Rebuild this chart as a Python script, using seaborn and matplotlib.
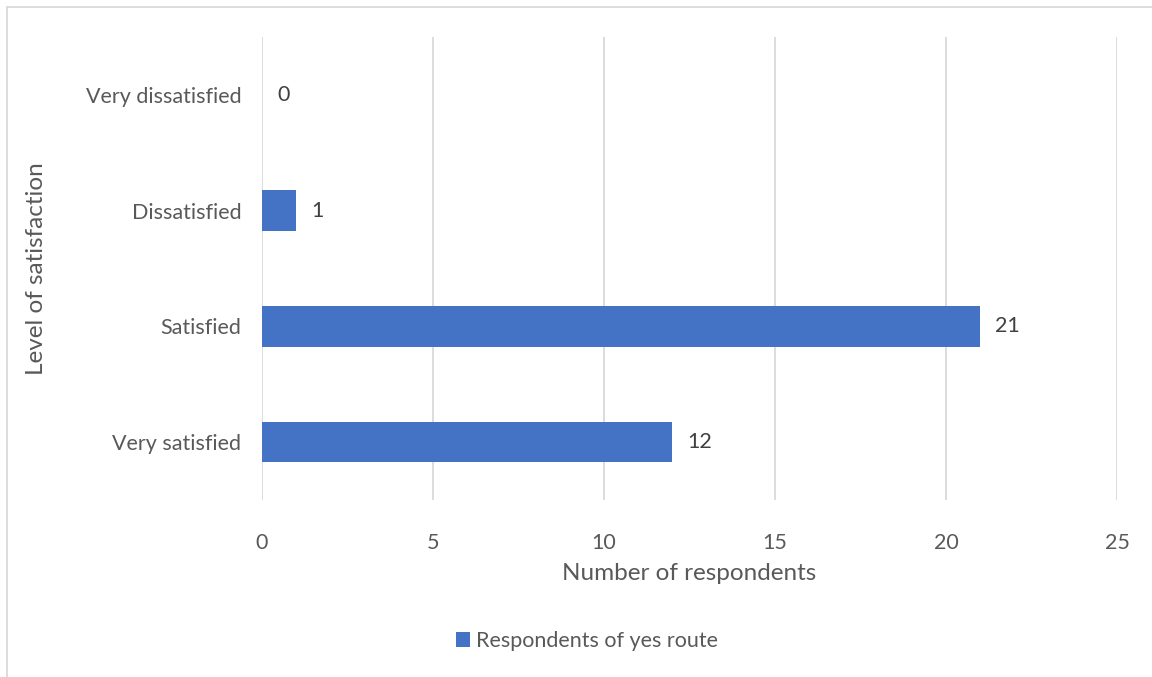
import matplotlib
matplotlib.use("Agg")
import matplotlib.pyplot as plt
import seaborn as sns
import pandas as pd
from matplotlib.patches import Rectangle, Patch

categories = ["Very dissatisfied", "Dissatisfied", "Satisfied", "Very satisfied"]
values = [0, 1, 21, 12]
series_name = "Respondents of yes route"
xticks = [0, 5, 10, 15, 20, 25]

sns.set_theme(style="white")
plt.rcParams['font.family'] = ['Lato', 'DejaVu Sans']
text_color = "#595959"
bar_color = "#4472C4"

df = pd.DataFrame({"category": categories, "value": values})

fig = plt.figure(figsize=(11.52, 6.77), dpi=100)
ax = fig.add_axes([262/1152, 1 - 500/677, (1117 - 262)/1152, (500 - 37)/677])

sns.barplot(data=df, x="value", y="category", order=categories, color=bar_color,
            width=0.35, ax=ax, saturation=1, edgecolor="none")

ax.set_xlim(0, 25)
ax.set_xticks(xticks)
ax.set_xticklabels([str(t) for t in xticks], fontsize=15.5, color=text_color)
ax.tick_params(axis="y", labelsize=15.5, labelcolor=text_color, length=0, pad=15)
ax.tick_params(axis="x", length=0, pad=24)
ax.xaxis.grid(True, color="#D9D9D9", linewidth=1.3)
ax.set_axisbelow(True)
for s in ax.spines.values():
    s.set_visible(False)

ax.set_xlabel("Number of respondents", fontsize=17.5, color=text_color, labelpad=7)
ax.set_ylabel("Level of satisfaction", fontsize=17.5, color=text_color, labelpad=28)

for c in ax.containers:
    ax.bar_label(c, labels=[str(v) for v in values], padding=11, fontsize=15.5, color="#404040")

handle = Patch(facecolor=bar_color, edgecolor="none")
fig.legend([handle], [series_name], loc="center", bbox_to_anchor=(587/1152, 1 - 641/677),
           frameon=False, fontsize=15.5, handlelength=0.65, handleheight=0.65,
           handletextpad=0.25, labelcolor=text_color)

fig.patches.append(Rectangle((7/1152, -0.01), 1.02, 1 - 7/677 + 0.01, transform=fig.transFigure,
                             fill=False, edgecolor="#D9D9D9", linewidth=1.3))

fig.savefig("out.png", dpi=100)
